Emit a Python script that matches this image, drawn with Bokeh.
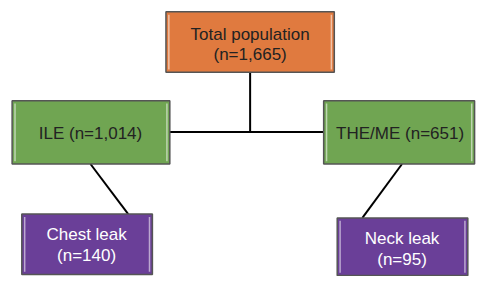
from bokeh.plotting import figure
from bokeh.models import Range1d, ColumnDataSource
from bokeh.core.properties import value
from bokeh.embed import file_html
from bokeh.resources import INLINE

# Content
groups = ["Total population", "ILE", "THE/ME", "Chest leak", "Neck leak"]
counts = [1665, 1014, 651, 140, 95]
fills = ["#E07A3F", "#70A552", "#70A552", "#6A3F98", "#6A3F98"]
text_colors = ["#222222", "#222222", "#222222", "#FFFFFF", "#FFFFFF"]
two_line = [True, False, False, True, True]

# Layout (reference-image coordinates)
box_left = [171, 12, 334, 22, 348]
box_right = [345, 175, 490, 157, 483]
box_top = [12, 106, 106, 226, 230]
box_bottom = [76, 173, 173, 290, 291]
text_x = [258, 93, 413, 89, 415]
line1_y = [36, 141, 141, 248, 252]
line2_y = [57, 141, 141, 270, 274]

def fmt(n):
    return "(n={:,})".format(n)

p = figure(width=477, height=276, output_backend="svg", toolbar_location=None,
           x_range=Range1d(0, 493), y_range=Range1d(292, 0), min_border=0)
p.axis.visible = False
p.grid.visible = False
p.outline_line_color = None
p.background_fill_color = "white"

# connectors
p.line([258, 258], [76, 139], line_color="black", line_width=2)
p.line([175, 334], [139, 139], line_color="black", line_width=2)
p.line([93, 132], [173, 226], line_color="black", line_width=2)
p.line([415, 374], [173, 230], line_color="black", line_width=2)

# boxes
src = ColumnDataSource(dict(left=box_left, right=box_right, top=box_top,
                            bottom=box_bottom, fill=fills))
p.quad(left="left", right="right", top="top", bottom="bottom", source=src,
       fill_color="fill", line_color="#555555", line_width=1.5)

# bevel highlights
for l, r, t, b in zip(box_left, box_right, box_top, box_bottom):
    p.segment(x0=[l + 3, r - 3], y0=[t + 3, t + 3], x1=[l + 3, r - 3], y1=[b - 3, b - 3],
              line_color="white", line_alpha=0.55, line_width=1.5)

# text
FS = "17px"
for i, g in enumerate(groups):
    if two_line[i]:
        p.text(x=[text_x[i]], y=[line1_y[i]], text=[g], text_align="center",
               text_baseline="middle", text_font=value("Liberation Sans"),
               text_font_size=FS, text_color=text_colors[i])
        p.text(x=[text_x[i]], y=[line2_y[i]], text=[fmt(counts[i])], text_align="center",
               text_baseline="middle", text_font=value("Liberation Sans"),
               text_font_size=FS, text_color=text_colors[i])
    else:
        p.text(x=[text_x[i]], y=[line1_y[i]], text=[g + " " + fmt(counts[i])],
               text_align="center", text_baseline="middle",
               text_font=value("Liberation Sans"), text_font_size=FS,
               text_color=text_colors[i])

open("out.html", "w").write(file_html(p, INLINE))
